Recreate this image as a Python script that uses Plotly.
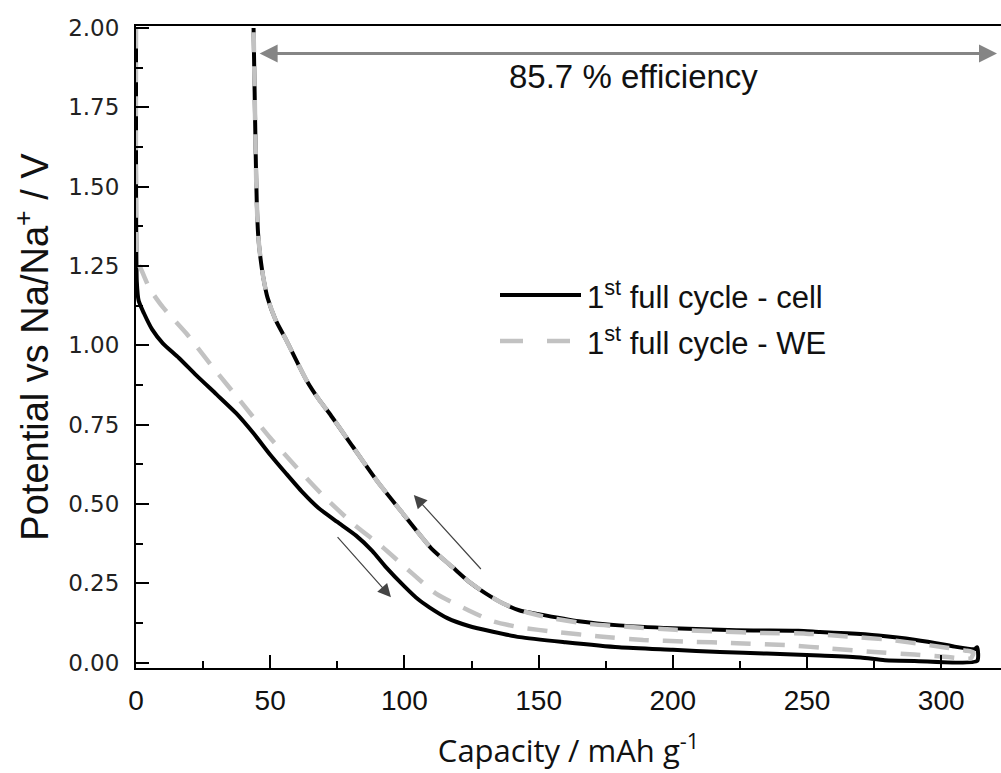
import plotly.graph_objects as go

# ---------------- data ----------------
# Cell (black, solid): discharge down the lower branch, then charge back up the upper branch
cell_cap = [0, 0, 0.3, 1, 3, 6, 10, 16, 22.5, 30, 37.4, 44, 50, 56, 62, 68, 75, 82, 88,
            93.2, 100, 105, 109.3, 116, 124, 133, 143, 160, 180, 200, 217.6, 235, 254.8, 270,
            279, 290, 313.4,
            313.4, 312.5, 305, 301.4, 290, 276.6, 265, 254.8, 246.8, 230, 217.6, 200, 180, 165,
            149, 143, 137, 130.4, 124, 118, 110, 99.4, 90, 80.8, 72.1, 68.4, 63.5, 56, 52,
            49, 47.5, 46.3, 45.5, 45.0, 44.6, 44.2, 43.8]
cell_pot = [2.0, 1.6, 1.2, 1.14, 1.10, 1.05, 1.006, 0.96, 0.905, 0.845, 0.785, 0.72, 0.655,
            0.595, 0.537, 0.487, 0.443, 0.400, 0.352, 0.30, 0.24, 0.2, 0.174, 0.14, 0.115,
            0.097, 0.08, 0.064, 0.048, 0.04, 0.033, 0.028, 0.022, 0.016, 0.007, 0.005, 0.005,
            0.048, 0.042, 0.05, 0.056, 0.072, 0.085, 0.092, 0.096, 0.1, 0.101, 0.103, 0.108,
            0.117, 0.13, 0.154, 0.164, 0.185, 0.217, 0.255, 0.30, 0.36, 0.47, 0.57, 0.68,
            0.785, 0.826, 0.89, 1.016, 1.08, 1.15, 1.21, 1.28, 1.35, 1.45, 1.6, 1.8, 2.0]

# Working electrode (grey, dashed)
we_cap = [0, 0, 0.5, 1.5, 5, 10, 18.8, 28.7, 38.7, 49.8, 59.7, 69.5, 80.8, 91.8, 103, 111.8,
          124, 133, 143, 156.7, 172.9, 189, 205, 223.8, 243.6, 259, 275, 290, 302.6, 311,
          312, 308.8, 296, 280, 265, 249.6, 233.6, 217.6, 201, 184, 168, 153, 145,
          137, 130.4, 124, 118, 110, 99.4, 90, 80.8, 72.1, 68.4, 63.5, 56, 52,
          49, 47.5, 46.3, 45.5, 45.0, 44.6, 44.2, 43.8]
we_pot = [2.0, 1.5, 1.26, 1.247, 1.18, 1.12, 1.037, 0.93, 0.826, 0.71, 0.616, 0.528, 0.438,
          0.364, 0.28, 0.217, 0.164, 0.13, 0.111, 0.096, 0.082, 0.071, 0.066, 0.061, 0.054,
          0.044, 0.033, 0.025, 0.017, 0.013,
          0.032, 0.038, 0.054, 0.072, 0.082, 0.091, 0.093, 0.098, 0.103, 0.112, 0.122, 0.143,
          0.16, 0.185, 0.217, 0.255, 0.30, 0.36, 0.47, 0.57, 0.68, 0.785, 0.826, 0.89, 1.016,
          1.08, 1.15, 1.21, 1.28, 1.35, 1.45, 1.6, 1.8, 2.0]

series_names = ["1<sup>st</sup> full cycle - cell", "1<sup>st</sup> full cycle - WE"]
x_ticks = [0, 50, 100, 150, 200, 250, 300]
y_ticks = [0.0, 0.25, 0.5, 0.75, 1.0, 1.25, 1.5, 1.75, 2.0]
efficiency_text = "85.7 % efficiency"
eff_span = [45.5, 320.8]   # capacity range of the efficiency arrow
eff_level = 1.92
arrow_up = [(129, 0.29), (103.5, 0.528)]     # (tail, head)
arrow_down = [(74.6, 0.40), (95, 0.206)]

# ---------------- figure ----------------
W, H = 1001, 773
L, R, T, B = 136, 0, 26, 105
pw, ph = W - L - R, H - T - B

def px(xp):
    return (xp - L) / pw

def py(yp):
    return (H - B - yp) / ph

fig = go.Figure()
fig.add_trace(go.Scatter(x=cell_cap, y=cell_pot, mode="lines", name=series_names[0],
                         line=dict(color="#000000", width=4, shape="spline", smoothing=0.6),
                         showlegend=False))
fig.add_trace(go.Scatter(x=we_cap, y=we_pot, mode="lines", name=series_names[1],
                         line=dict(color="#c2c2c2", width=4.5, dash="20px,14px",
                                   shape="spline", smoothing=0.6),
                         showlegend=False))

# legend drawn manually
leg_y = [295, 341]
fig.add_shape(type="line", xref="paper", yref="paper", x0=px(500), x1=px(581),
              y0=py(leg_y[0]), y1=py(leg_y[0]), line=dict(color="#000000", width=4))
fig.add_shape(type="line", xref="paper", yref="paper", x0=px(500), x1=px(571),
              y0=py(leg_y[1]), y1=py(leg_y[1]),
              line=dict(color="#c2c2c2", width=4.5, dash="23px,24px"))
for name, ly in zip(series_names, leg_y):
    fig.add_annotation(xref="paper", yref="paper", x=px(585), y=py(ly), text=name,
                       showarrow=False, xanchor="left", yanchor="middle",
                       font=dict(family="Liberation Sans, Arial", size=31, color="#111111"))

# efficiency arrow + text
fig.add_annotation(x=eff_span[1], y=eff_level, ax=eff_span[0], ay=eff_level,
                   xref="x", yref="y", axref="x", ayref="y", text="", showarrow=True,
                   arrowhead=2, startarrowhead=2, arrowside="end+start", arrowwidth=3,
                   arrowsize=1.2, startarrowsize=1.2, arrowcolor="#858585", standoff=0,
                   startstandoff=0)
fig.add_annotation(xref="paper", yref="paper", x=px(633), y=py(77), text=efficiency_text,
                   showarrow=False, xanchor="center", yanchor="middle",
                   font=dict(family="Liberation Sans, Arial", size=33, color="#111111"))

for (tail, head) in (arrow_up, arrow_down):
    fig.add_annotation(x=head[0], y=head[1], ax=tail[0], ay=tail[1], xref="x", yref="y",
                       axref="x", ayref="y", text="", showarrow=True, arrowhead=2,
                       arrowwidth=1.2, arrowsize=2.2, arrowcolor="#444444", standoff=0)

axis_common = dict(showgrid=False, zeroline=False, showline=True, linecolor="#000000",
                   linewidth=2, ticks="inside", tickwidth=2, ticklen=13, tickcolor="#000000")

fig.update_xaxes(range=[0, pw / 2.684], tickvals=x_ticks, ticktext=[str(v) for v in x_ticks],
                 mirror=True,
                 minor=dict(dtick=25, tick0=0, ticks="inside", ticklen=7, tickwidth=2,
                            tickcolor="#000000"),
                 tickfont=dict(family="Liberation Sans, Arial", size=28, color="#111111"),
                 ticklabelstandoff=6,
                 title=dict(text="Capacity / mAh g<sup>-1</sup>", standoff=26,
                            font=dict(family="Open Sans", size=31, color="#111111")),
                 **axis_common)
fig.update_yaxes(range=[(662.5 - (H - B)) / 317.25, (662.5 - T) / 317.25],
                 tickvals=y_ticks, ticktext=[f"{v:.2f}" for v in y_ticks],
                 minor=dict(dtick=0.125, tick0=0, ticks="inside", ticklen=7, tickwidth=2,
                            tickcolor="#000000"),
                 tickfont=dict(family="DejaVu Sans", size=23, color="#222222"),
                 ticklabelstandoff=10,
                 title=dict(text="Potential vs Na/Na<sup>+</sup> / V", standoff=8,
                            font=dict(family="Liberation Sans, Arial", size=38, color="#111111")),
                 **axis_common)

fig.update_layout(width=W, height=H, margin=dict(l=L, r=R, t=T, b=B, autoexpand=False),
                  plot_bgcolor="#ffffff", paper_bgcolor="#ffffff", showlegend=False)

fig.write_html("out.html")
